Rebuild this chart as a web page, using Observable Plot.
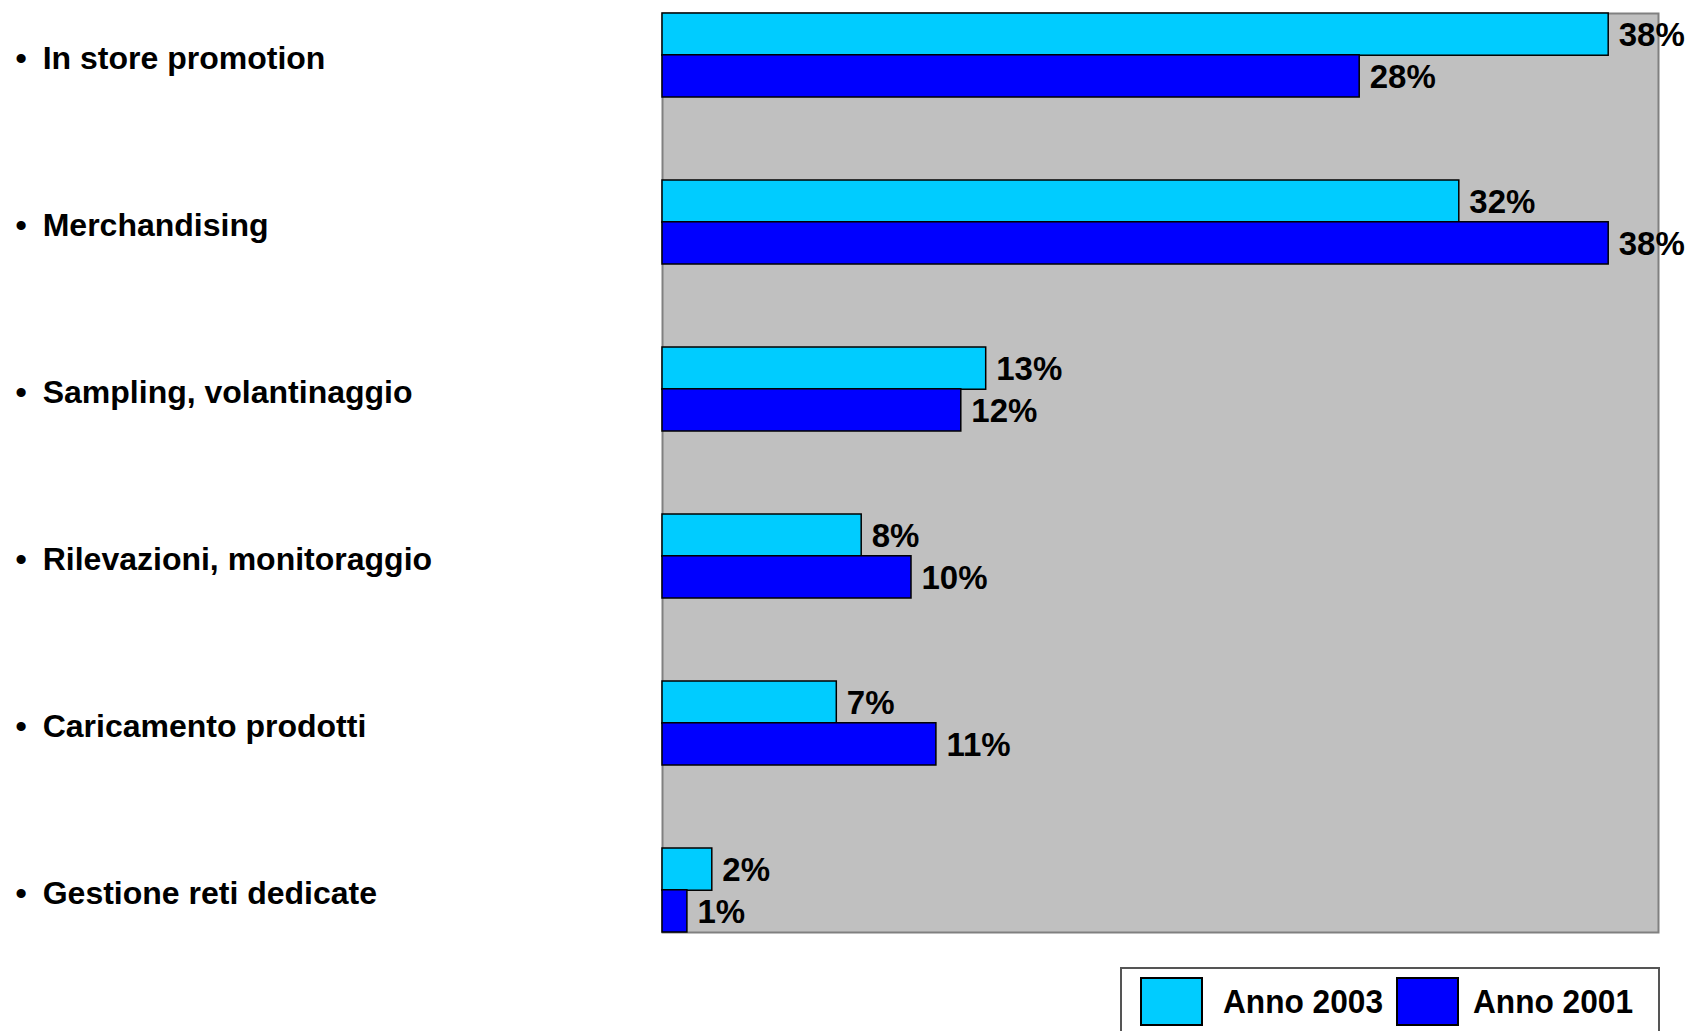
<!DOCTYPE html>
<html>
<head>
<meta charset="utf-8">
<script src="https://cdn.jsdelivr.net/npm/d3@7"></script>
<script src="https://cdn.jsdelivr.net/npm/@observablehq/plot@0.6"></script>
<style>
  html, body { margin: 0; padding: 0; background: #fff; overflow: hidden; }
  #chart svg { display: block; }
  .legend {
    position: relative; margin-left: 1120px; margin-top: 22px;
    width: 540px; height: 72px; border: 2px solid #555; box-sizing: border-box;
    font-family: "Liberation Sans Narrow", "Liberation Sans", Arial, sans-serif;
    font-weight: bold; font-size: 33px; color: #000;
  }
  .legend .sw { position: absolute; top: 8px; width: 63px; height: 49px; border: 2px solid #000; box-sizing: border-box; }
  .legend .lab { position: absolute; top: 8px; line-height: 49px; white-space: nowrap; transform-origin: left center; }
</style>
</head>
<body>
<div id="chart"></div>
<script>
const categories = ["In store promotion", "Merchandising", "Sampling, volantinaggio", "Rilevazioni, monitoraggio", "Caricamento prodotti", "Gestione reti dedicate"];
const series = ["Anno 2003", "Anno 2001"];
const values2003 = [38, 32, 13, 8, 7, 2];
const values2001 = [28, 38, 12, 10, 11, 1];
const colors = ["#00CCFF", "#0000FF"];

const W = 1695, H = 945, mt = 13, mb = 13, ml = 662, mr = 37;
const padInner = 0.5;
const bw = (H - mt - mb) / (categories.length - padInner) * (1 - padInner);

const d2003 = categories.map((c, i) => ({cat: c, v: values2003[i]}));
const d2001 = categories.map((c, i) => ({cat: c, v: values2001[i]}));

const plot = Plot.plot({
  width: W, height: H,
  marginTop: mt, marginBottom: mb, marginLeft: ml, marginRight: mr,
  style: {background: "white", color: "black", overflow: "visible"},
  x: {domain: [0, 40], axis: null},
  y: {domain: categories, axis: null, paddingInner: padInner, paddingOuter: 0},
  marks: [
    Plot.frame({fill: "#C0C0C0", stroke: "#808080", strokeWidth: 2}),
    Plot.barX(d2003, {x: "v", y: "cat", fill: colors[0], stroke: "black", strokeWidth: 1.5, insetBottom: bw / 2}),
    Plot.barX(d2001, {x: "v", y: "cat", fill: colors[1], stroke: "black", strokeWidth: 1.5, insetTop: bw / 2}),
    Plot.text(d2003, {x: "v", y: "cat", text: d => d.v + "%", dy: -bw / 4 + 1, dx: 10, textAnchor: "start",
      fontFamily: "Liberation Sans, Arial, sans-serif", fontWeight: "bold", fontSize: 33, fill: "black"}),
    Plot.text(d2001, {x: "v", y: "cat", text: d => d.v + "%", dy: bw / 4 + 1, dx: 10, textAnchor: "start",
      fontFamily: "Liberation Sans, Arial, sans-serif", fontWeight: "bold", fontSize: 33, fill: "black"}),
    Plot.text(categories, {y: d => d, text: d => "•\u2002" + d, frameAnchor: "left", dx: -(ml - 15), dy: 3,
      textAnchor: "start", fontFamily: "Liberation Sans, Arial, sans-serif", fontWeight: "bold", fontSize: 32, fill: "black"})
  ]
});
document.getElementById("chart").appendChild(plot);

const leg = document.createElement("div");
leg.className = "legend";
const swLeft = [18, 274];
const labLeft = [101, 351];
series.forEach((s, i) => {
  const sw = document.createElement("div");
  sw.className = "sw"; sw.style.background = colors[i]; sw.style.left = swLeft[i] + "px";
  const lab = document.createElement("div");
  lab.className = "lab"; lab.textContent = s; lab.style.left = labLeft[i] + "px";
  leg.appendChild(sw); leg.appendChild(lab);
});
document.body.appendChild(leg);
leg.querySelectorAll(".lab").forEach(el => {
  const w = el.getBoundingClientRect().width;
  const target = 160;
  if (w > target) el.style.transform = `scaleX(${target / w})`;
});
</script>
</body>
</html>
